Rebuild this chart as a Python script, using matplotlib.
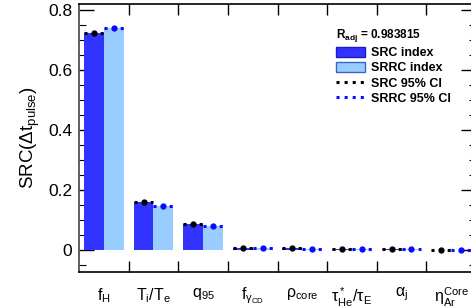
import matplotlib
matplotlib.use("Agg")
import matplotlib.pyplot as plt
from matplotlib.patches import Patch
from matplotlib.lines import Line2D
from matplotlib.ticker import MultipleLocator, FuncFormatter
import numpy as np

plt.rcParams['font.family'] = ['Liberation Sans', 'DejaVu Sans']
plt.rcParams['mathtext.fontset'] = 'custom'
plt.rcParams['mathtext.rm'] = 'Liberation Sans'
plt.rcParams['mathtext.it'] = 'Liberation Sans:italic'
plt.rcParams['mathtext.bf'] = 'Liberation Sans:bold'

categories = [r'$\mathrm{f_H}$', r'$\mathrm{T_i/T_e}$', r'$\mathrm{q_{95}}$',
              r'$\mathrm{f_{\gamma_{CD}}}$', r'$\mathrm{\rho_{core}}$',
              r'$\mathrm{\tau^*_{He}/\tau_E}$', r'$\mathrm{\alpha_j}$',
              r'$\mathrm{\eta^{Core}_{Ar}}$']
src = [0.722, 0.160, 0.087, 0.006, 0.006, 0.002, 0.002, -0.001]
srrc = [0.739, 0.146, 0.079, 0.006, 0.005, 0.002, 0.002, 0.001]
r_adj = "0.983815"

dark = '#3333ff'
light = '#99ccff'

fig = plt.figure(figsize=(4.71, 3.08), dpi=100)
W, H = 471, 308
ax = fig.add_axes([79 / W, 36 / H, 397 / W, 268 / H])

x = np.arange(len(categories)) + 0.5
bw = 0.4
ax.bar(x - bw / 2, src, width=bw, color=dark, linewidth=0, zorder=2)
ax.bar(x + bw / 2, srrc, width=bw, color=light, linewidth=0, zorder=2)

for xi, v in zip(x, src):
    ax.plot([xi - bw, xi], [v, v], color='black', ls=':', lw=2.2, zorder=3)
    ax.plot([xi - bw / 2], [v], 'o', color='black', ms=3.5, zorder=4)
for xi, v in zip(x, srrc):
    ax.plot([xi, xi + bw], [v, v], color='#0a0aff', ls=':', lw=2.2, zorder=3)
    ax.plot([xi + bw / 2], [v], 'o', color='#0a0aff', ms=3.5, zorder=4)

ax.set_xlim(0, len(categories))
ax.set_ylim(-0.073, 0.82)

ax.yaxis.set_major_locator(MultipleLocator(0.2))
ax.yaxis.set_minor_locator(MultipleLocator(0.05))
ax.yaxis.set_major_formatter(FuncFormatter(lambda v, p: '0' if abs(v) < 1e-9 else f'{v:.1f}'))
ax.tick_params(axis='y', which='major', direction='in', length=11, width=1, right=True, labelsize=12.5, pad=5)
ax.tick_params(axis='y', which='minor', direction='in', length=5, width=0.8, right=True)

ax.set_xticks(np.arange(1, len(categories)))
ax.set_xticks(x, minor=True)
ax.set_xticklabels([])
ax.set_xticklabels(categories, minor=True)
ax.tick_params(axis='x', which='major', direction='in', length=8, width=1, top=True)
ax.tick_params(axis='x', which='minor', length=0, labelsize=11.5, pad=10)

for s in ax.spines.values():
    s.set_linewidth(1.2)
ax.spines['left'].set_color('#444444')

ax.set_ylabel(r'$\mathrm{SRC(\Delta t_{pulse})}$', fontsize=13.5, labelpad=4)

handles = [Patch(facecolor=dark, edgecolor='#1a1acc', linewidth=1),
           Patch(facecolor=light, edgecolor='#3366cc', linewidth=1),
           Line2D([], [], color='black', ls=':', lw=2.2),
           Line2D([], [], color='#0a0aff', ls=':', lw=2.2)]
labels = ['SRC index', 'SRRC index', 'SRC 95% CI', 'SRRC 95% CI']
leg = ax.legend(handles, labels, loc='upper left', bbox_to_anchor=(336 / W, 1 - 27 / H),
                bbox_transform=fig.transFigure, frameon=False,
                prop={'weight': 'bold', 'size': 9}, title=r'$\mathbf{R_{adj}}$ = ' + r_adj,
                title_fontproperties={'weight': 'bold', 'size': 8.5},
                handlelength=2.3, handleheight=0.8, handletextpad=0.5,
                labelspacing=0.25, borderaxespad=0, borderpad=0, alignment='left')

fig.savefig('out.png', dpi=100)
